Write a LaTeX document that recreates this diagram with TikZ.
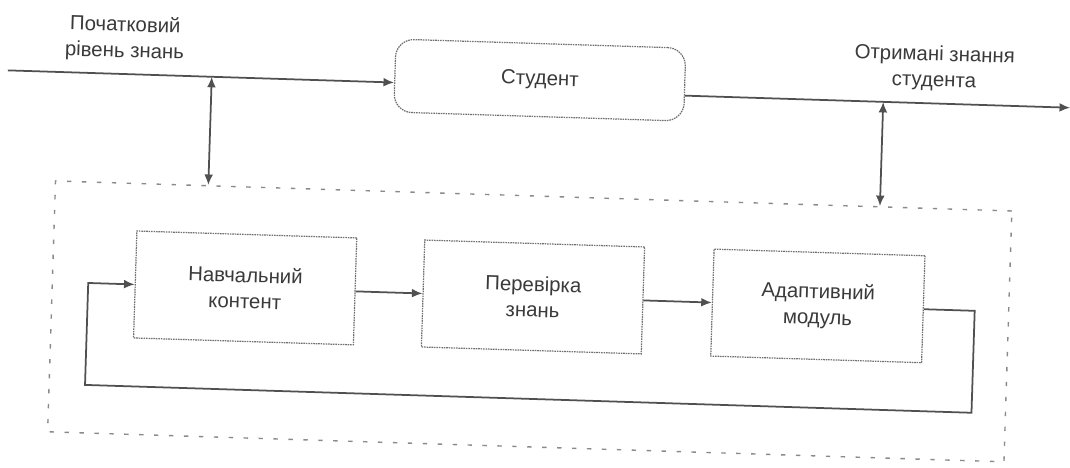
\documentclass[tikz,border=0pt]{standalone}
\usepackage{fontspec}
\setmainfont{Liberation Sans}
\usetikzlibrary{arrows.meta}
\definecolor{lnc}{HTML}{505050}
\definecolor{boxc}{HTML}{707070}
\definecolor{frc}{HTML}{8A8A8A}
\definecolor{txc}{HTML}{3A3A3A}
\tikzset{
  conn/.style={draw=lnc, line width=1pt, -{Latex[length=6pt,width=5pt]}},
  dconn/.style={draw=lnc, line width=1pt, {Latex[length=6pt,width=5pt]}-{Latex[length=6pt,width=5pt]}},
  blockbox/.style={draw=boxc, line width=0.7pt, dash pattern=on 0.9pt off 0.5pt, rectangle,
    minimum height=2.14cm, align=center, text=txc, inner sep=0pt},
  studbox/.style={draw=boxc, line width=0.7pt, dash pattern=on 0.9pt off 0.5pt, rectangle,
    rounded corners=0.36cm, minimum width=5.8cm, minimum height=1.46cm, text=txc},
  frame/.style={draw=frc, line width=0.8pt, dash pattern=on 2.5pt off 6pt, rectangle,
    minimum width=19.14cm, minimum height=5.02cm, inner sep=0pt},
  lbl/.style={align=center, text=txc, inner sep=0pt}
}
\begin{document}
\begin{tikzpicture}[x=0.02cm,y=-0.02cm,font=\fontsize{11.6}{14.7}\selectfont]
\useasboundingbox (0,0) rectangle (1070,467);
\begin{scope}[rotate around={-1.8:(535,233)}, transform shape]
  % frame
  \node[frame] (frame) at (532.5,321.5) {};
  % student
  \node[studbox] (stud) at (535,80) {Студент};
  % blocks
  \node[blockbox, minimum width=4.4cm] (navch) at (247,297) {Навчальний\\контент};
  \node[blockbox, minimum width=4.4cm] (perev) at (535,297) {Перевірка\\знань};
  \node[blockbox, minimum width=4.22cm] (adapt) at (820,297) {Адаптивний\\модуль};
  % labels
  \node[lbl] (lin) at (119,52) {Початковий\\рівень знань};
  \node[lbl] (lout) at (929,56) {Отримані знання\\студента};
  % coordinates
  \coordinate (in) at (3,87);
  \coordinate (j1) at (207,87);
  \coordinate (out) at (1066,91);
  \coordinate (j2) at (879,91);
  \coordinate (lr) at (977,399);
  \coordinate (ll) at (90,399);
  % top connectors
  \draw[conn] (in) -- (in -| stud.west);
  \draw[conn] (stud.east |- out) -- (out);
  \draw[dconn] (j1) -- (j1 |- frame.north);
  \draw[dconn] (j2) -- (j2 |- frame.north);
  % inner connectors
  \draw[conn] (navch.east) -- (perev.west);
  \draw[conn] (perev.east) -- (adapt.west);
  \draw[conn] (adapt.east) -| (lr) -- (ll) |- (navch.west);
\end{scope}
\end{tikzpicture}
\end{document}
